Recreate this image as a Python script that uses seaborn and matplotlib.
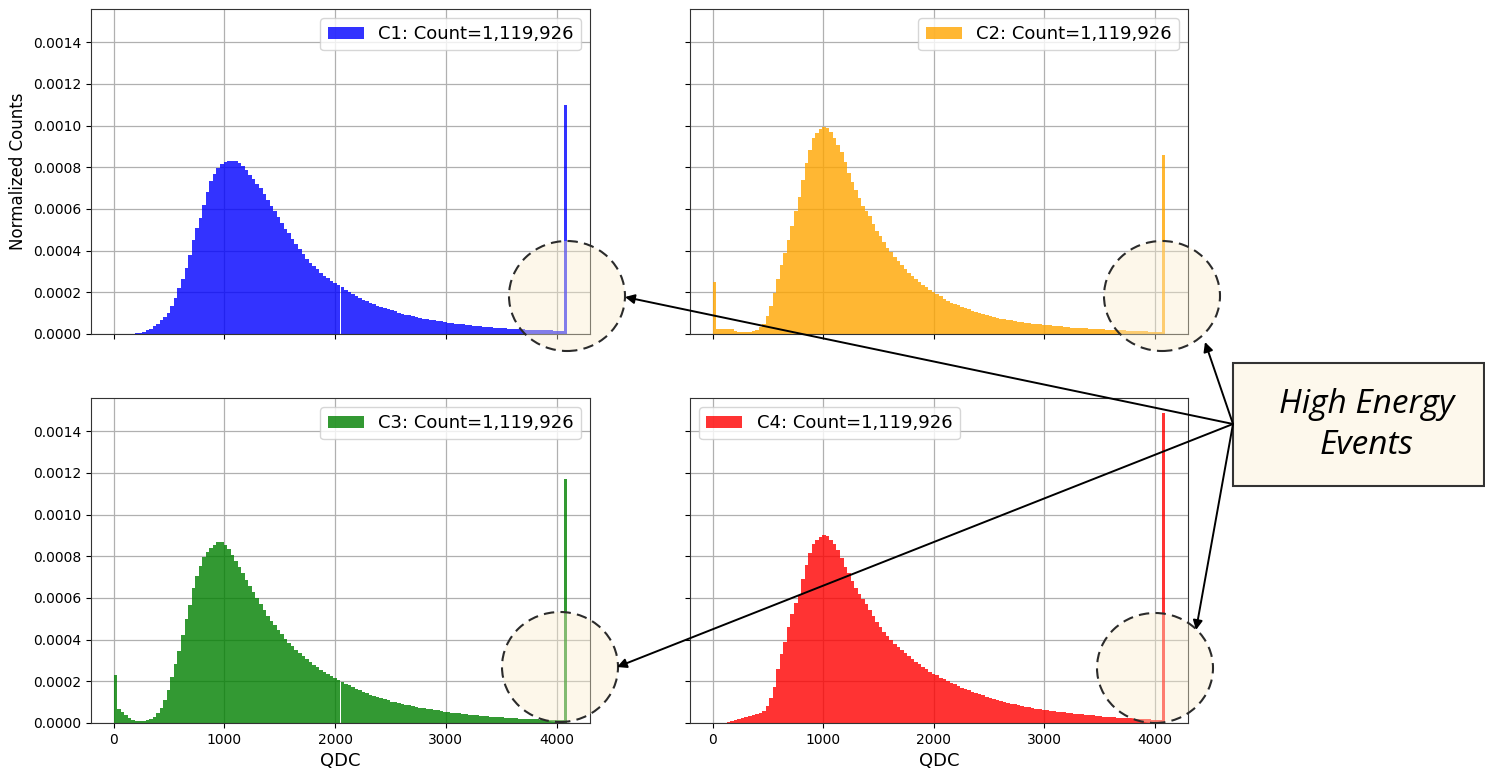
import numpy as np
import pandas as pd
import matplotlib
matplotlib.use("Agg")
import matplotlib.pyplot as plt
from matplotlib.patches import Ellipse, Rectangle, FancyArrowPatch
from matplotlib.ticker import FormatStrFormatter
import seaborn as sns

# ---- data: normalized counts per 32-channel QDC bin (x 1e-6); last bin = overflow channel
channels = ["C1", "C2", "C3", "C4"]
event_counts = [1119926, 1119926, 1119926, 1119926]
colors = ["blue", "orange", "green", "red"]

c1 = [0, 0, 0, 0, 0, 1, 3, 6, 11, 17, 26, 37, 50, 65, 82, 103,
      135, 175, 220, 265, 318, 380, 450, 510, 555, 620, 680, 736, 770, 795, 815, 826,
      832, 830, 828, 820, 805, 785, 765, 745, 722, 700, 672, 642, 615, 588, 560, 533,
      506, 483, 458, 432, 408, 385, 362, 342, 326, 310, 293, 280, 268, 256, 246, 236,
      224, 212, 200, 190, 180, 172, 164, 156, 149, 142, 136, 130, 124, 118, 113, 108,
      103, 98, 93, 89, 85, 81, 77, 74, 71, 68, 65, 62, 60, 57, 55, 52,
      50, 48, 46, 44, 42, 40, 38, 37, 35, 34, 32, 31, 30, 28, 27, 26,
      25, 24, 23, 22, 21, 21, 20, 19, 18, 18, 17, 17, 16, 16, 15, 1100]

c2 = [248, 24, 25, 24, 23, 22, 15, 11, 10, 10, 11, 13, 20, 32, 48, 85,
      135, 195, 265, 330, 388, 450, 520, 590, 655, 740, 820, 885, 940, 965, 985, 995,
      990, 970, 942, 905, 875, 825, 772, 730, 692, 652, 615, 590, 565, 528, 495, 468,
      442, 415, 392, 370, 350, 330, 310, 292, 276, 262, 248, 236, 224, 212, 202, 193,
      180, 170, 160, 151, 144, 137, 130, 124, 118, 112, 106, 100, 95, 90, 86, 82,
      78, 74, 71, 68, 65, 62, 59, 57, 55, 52, 50, 48, 46, 45, 43, 41,
      39, 38, 36, 34, 33, 31, 30, 29, 28, 27, 26, 25, 24, 23, 22, 21,
      20, 19, 18, 17, 17, 16, 15, 15, 14, 13, 12, 11, 10, 9, 8, 860]

c3 = [229, 68, 55, 40, 24, 15, 10, 8, 8, 12, 19, 30, 48, 74, 112, 160,
      220, 282, 345, 420, 500, 565, 650, 705, 755, 798, 822, 840, 855, 866, 868, 852,
      835, 805, 776, 750, 718, 685, 655, 628, 598, 570, 543, 515, 490, 468, 446, 425,
      404, 385, 368, 352, 336, 322, 308, 292, 280, 268, 256, 246, 236, 226, 216, 207,
      198, 189, 180, 172, 164, 157, 150, 143, 136, 130, 124, 118, 113, 108, 103, 99,
      95, 91, 87, 84, 80, 77, 74, 71, 68, 65, 63, 60, 58, 55, 53, 50,
      48, 46, 44, 42, 40, 38, 36, 35, 33, 32, 31, 29, 28, 27, 26, 24,
      23, 22, 21, 20, 19, 18, 18, 17, 16, 15, 15, 14, 13, 13, 12, 1170]

c4 = [0, 0, 0, 0, 3, 8, 14, 20, 25, 30, 34, 38, 43, 50, 58, 80,
      120, 175, 258, 330, 390, 462, 522, 575, 615, 690, 760, 815, 860, 880, 892, 900,
      896, 880, 860, 830, 790, 748, 720, 680, 648, 620, 595, 570, 540, 512, 485, 460,
      438, 418, 398, 380, 364, 350, 334, 320, 306, 294, 282, 270, 258, 246, 236, 228,
      218, 209, 200, 192, 185, 178, 170, 163, 156, 150, 144, 138, 132, 126, 121, 115,
      110, 106, 101, 97, 93, 89, 85, 82, 78, 75, 72, 69, 67, 64, 62, 59,
      57, 55, 53, 51, 49, 47, 45, 43, 41, 39, 37, 36, 34, 33, 31, 30,
      29, 27, 26, 25, 24, 23, 22, 21, 20, 19, 18, 17, 15, 13, 12, 1485]

series = [c1, c2, c3, c4]
bin_edges = np.arange(0, 4097, 32)
bin_centers = (bin_edges[:-1] + bin_edges[1:]) / 2

# ---- figure layout
W, H = 1485, 769
fig = plt.figure(figsize=(W / 100, H / 100), dpi=100)
axes = fig.subplots(2, 2, sharex=True, sharey=True)

def fx(px):
    return px / W

def fy(py):
    return 1 - py / H

left_cols = [(91, 590), (690, 1188)]
rows = [(9, 334), (398, 723)]
for r in range(2):
    for c in range(2):
        x0, x1 = left_cols[c]
        y0, y1 = rows[r]
        axes[r, c].set_position([fx(x0), fy(y1), (x1 - x0) / W, (y1 - y0) / H])

legend_locs = ["upper right", "upper right", "upper right", "upper left"]

for i, ax in enumerate(axes.flat):
    df = pd.DataFrame({"qdc": bin_centers, "norm": np.array(series[i]) * 1e-6})
    sns.histplot(data=df, x="qdc", weights="norm", bins=bin_edges.tolist(),
                 color=colors[i], alpha=0.8, linewidth=0, ax=ax,
                 label=f"{channels[i]}: Count={event_counts[i]:,}")
    ax.set_axisbelow(True)
    ax.grid(True, color="#b0b0b0", linewidth=0.9)
    ax.set_xlabel("QDC", fontsize=13)
    ax.set_ylabel("")
    ax.tick_params(labelsize=10)
    ax.legend(loc=legend_locs[i], fontsize=13, framealpha=0.8)
    for s in ax.spines.values():
        s.set_color("#333333")

axes[0, 0].set_ylabel("Normalized Counts", fontsize=12)
axes[0, 0].yaxis.set_major_formatter(FormatStrFormatter("%.4f"))
axes[0, 0].set_xticks([0, 1000, 2000, 3000, 4000])
axes[0, 0].set_yticks(np.arange(0, 0.00141, 0.0002))

# ---- highlighted overflow regions
regions = [(567, 296), (1162, 296), (560, 667), (1155, 668)]
for cx, cy in regions:
    fig.add_artist(Ellipse((fx(cx), fy(cy)), width=2 * 58 / W, height=2 * 55 / H,
                           transform=fig.transFigure,
                           facecolor=(0.98, 0.93, 0.80, 0.4), edgecolor="#2b2b2b",
                           linestyle=(0, (5, 3)), linewidth=1.5, zorder=10))

# ---- callout box and arrows
fig.add_artist(Rectangle((fx(1233), fy(486)), (1484 - 1233) / W, (486 - 363) / H,
                         transform=fig.transFigure, facecolor="#fdf8ec",
                         edgecolor="#333333", linewidth=1.5, zorder=11))
fig.text(fx(1367), fy(425), "High Energy\nEvents", ha="center", va="center",
         fontsize=24, style="italic", family="Open Sans", linespacing=1.3, zorder=12)

origin = (1233, 424)
targets = [(625, 297), (1205, 342), (617, 667), (1196, 630)]
for tx, ty in targets:
    fig.add_artist(FancyArrowPatch((fx(origin[0]), fy(origin[1])), (fx(tx), fy(ty)),
                                   transform=fig.transFigure, arrowstyle="-|>",
                                   mutation_scale=14, linewidth=1.4, color="black",
                                   shrinkA=0, shrinkB=0, zorder=12))

fig.savefig("out.png", dpi=100)
